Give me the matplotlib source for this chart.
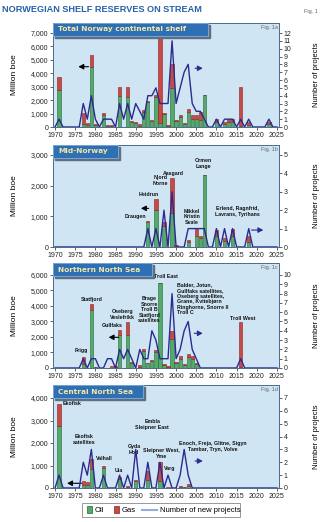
import numpy as np
import matplotlib.pyplot as plt
from matplotlib.patches import Rectangle

years = np.arange(1970, 2026)

# Total Norway continental shelf (million boe)
tot_years = [1971, 1977, 1978, 1979, 1980, 1982, 1983, 1984, 1986, 1988, 1989, 1990,
             1991, 1992, 1993, 1994, 1995, 1996, 1997, 1998, 1999, 2000, 2001, 2002,
             2003, 2004, 2005, 2006, 2007, 2010, 2012, 2013, 2014, 2016, 2018, 2023]
tot_oil = [2750, 250, 150, 4500, 150, 920, 50, 100, 2300, 2250, 380, 320,
           80, 1150, 1850, 420, 2250, 300, 950, 80, 2900, 480, 750, 220,
           1100, 600, 600, 500, 2400, 400, 200, 350, 350, 50, 150, 200]
tot_gas = [1000, 770, 120, 850, 50, 100, 80, 60, 650, 700, 30, 30,
           120, 100, 100, 80, 150, 6300, 100, 70, 1800, 30, 150, 90,
           250, 300, 300, 600, 0, 200, 150, 250, 250, 2900, 200, 200]
tot_proj = [0, 1, 0, 0, 0, 0, 0, 3, 1, 4,
            1, 0, 1, 1, 1, 0, 3, 1, 3, 1,
            3, 2, 1, 4, 4, 5, 3, 3, 3, 11,
            3, 5, 7, 8, 3, 2, 2, 1, 0, 0,
            1, 0, 1, 1, 1, 0, 1, 0, 1, 0,
            0, 0, 0, 1, 0, 0]

# Mid-Norway
mid_years = [1993, 1995, 1997, 1999, 2000, 2003, 2005, 2006, 2007, 2010, 2012, 2014, 2018]
mid_oil = [800, 1200, 700, 1100, 0, 150, 350, 300, 2350, 350, 200, 350, 150]
mid_gas = [50, 370, 100, 1150, 50, 80, 250, 50, 0, 200, 100, 250, 200]
mid_proj = [0, 0, 0, 0, 0, 0, 0, 0, 0, 0,
            0, 0, 0, 0, 0, 0, 0, 0, 0, 0,
            0, 0, 0, 1, 0, 1, 0, 2, 0, 3,
            0, 0, 0, 1, 1, 1, 1, 1, 0, 0,
            1, 0, 1, 0, 1, 0, 0, 0, 1, 0,
            0, 0, 0, 0, 0, 0]

# Northern North Sea
nns_years = [1977, 1979, 1980, 1984, 1985, 1986, 1988, 1989, 1991, 1992, 1993, 1994,
             1995, 1996, 1997, 1998, 1999, 2000, 2001, 2002, 2003, 2004, 2005, 2016]
nns_oil = [250, 3750, 80, 30, 60, 2100, 2150, 350, 50, 1100, 300, 450,
           1000, 5500, 200, 80, 1850, 350, 600, 200, 700, 600, 250, 50]
nns_gas = [450, 350, 0, 70, 80, 350, 800, 50, 150, 150, 50, 80,
           150, 0, 50, 40, 550, 50, 150, 50, 200, 200, 100, 2900]
nns_proj = [0, 0, 0, 0, 0, 0, 0, 1, 0, 1,
            1, 0, 0, 1, 1, 0, 2, 1, 2, 1,
            0, 2, 1, 1, 4, 3, 1, 1, 1, 8,
            1, 2, 4, 5, 2, 1, 0, 0, 0, 0,
            0, 0, 0, 0, 0, 0, 1, 0, 0, 0,
            0, 0, 0, 0, 0, 0]

# Central North Sea
cns_years = [1971, 1977, 1978, 1979, 1982, 1986, 1988, 1990, 1993, 1996, 1998, 2001, 2002, 2003]
cns_oil = [2750, 150, 150, 850, 900, 400, 40, 300, 350, 300, 20, 40, 30, 90]
cns_gas = [1000, 150, 100, 450, 100, 100, 60, 50, 400, 850, 40, 40, 30, 80]
cns_proj = [0, 1, 0, 0, 0, 0, 0, 2, 1, 3,
            0, 0, 1, 0, 0, 0, 1, 0, 1, 0,
            3, 0, 0, 2, 0, 0, 2, 0, 1, 0,
            0, 1, 3, 1, 0, 0, 0, 0, 0, 0,
            0, 0, 0, 0, 0, 0, 0, 0, 0, 0,
            0, 0, 0, 0, 0, 0]

plt.rcParams['font.family'] = ['Liberation Sans', 'DejaVu Sans']

W, H = 325, 522
fig = plt.figure(figsize=(W / 100, H / 100), dpi=100)


def fx(x):
    return x / W


def fy(y):
    return 1 - y / H


oil_c, oil_e = '#55a96a', '#1e6a36'
gas_c, gas_e = '#c64b46', '#8a2020'
line_c = '#2c2a8e'
bg = '#cfe5f4'
spine_c = '#4d6b8c'


def panel(top, bottom, lmax, lstep, ltop, rmax, rtop, b_years, oil, gas, proj,
          title, box_right, tag):
    ax = fig.add_axes([fx(53), fy(bottom), fx(279) - fx(53), (bottom - top) / H])
    ax.set_facecolor(bg)
    ax.bar(b_years, oil, width=0.8, color=oil_c, edgecolor=oil_e, linewidth=0.4, zorder=2)
    ax.bar(b_years, gas, width=0.8, bottom=oil, color=gas_c, edgecolor=gas_e,
           linewidth=0.4, zorder=2)
    ax.set_xlim(1969.5, 2025.5)
    ax.set_ylim(0, ltop)
    lt = np.arange(0, lmax + 1, lstep)
    ax.set_yticks(lt)
    ax.set_yticklabels([f'{v:,}' for v in lt])
    ax.set_xticks(np.arange(1970, 2026, 5))
    ax2 = ax.twinx()
    ax2.plot(years, proj, color=line_c, lw=1.0, zorder=3)
    ax2.set_ylim(0, rtop)
    ax2.set_yticks(np.arange(0, rmax + 1))
    for a in (ax, ax2):
        a.tick_params(labelsize=5, length=2, width=0.5, pad=1.5, colors='#222222')
        for s in a.spines.values():
            s.set_color(spine_c)
            s.set_linewidth(0.6)
    # title box
    fig.add_artist(Rectangle((fx(54.5), fy(top + 14.5)), fx(box_right - 53), 13 / H,
                             transform=fig.transFigure, color='#5f6f7f', zorder=4))
    fig.add_artist(Rectangle((fx(53), fy(top + 13)), fx(box_right - 53), 13 / H,
                             transform=fig.transFigure, facecolor='#2f6fb4',
                             edgecolor='#7fb0e0', linewidth=0.6, zorder=5))
    fig.text(fx(58), fy(top + 6.5), title, fontsize=5.3, fontweight='bold',
             color='#f4e8a4', va='center', ha='left', family='DejaVu Sans', zorder=6)
    ax.text(0.995, 0.985, tag, transform=ax.transAxes, fontsize=4, color='#666666',
            ha='right', va='top', zorder=6)
    mid = (top + bottom) / 2
    fig.text(fx(15), fy(mid), 'Million boe', rotation=90, fontsize=6, ha='center', va='center')
    fig.text(fx(317), fy(mid), 'Number of projects', rotation=90, fontsize=5.5,
             ha='center', va='center')
    return ax, ax2


def label(ax, x, y, s, ha='center', va='center'):
    ax.text(x, y, s, fontsize=3.8, fontweight='bold', ha=ha, va=va, linespacing=1.15,
            color='#111111', zorder=6)


def arrow(ax, x0, x1, y, color):
    ax.annotate('', xy=(x1, y), xytext=(x0, y),
                arrowprops=dict(arrowstyle='-|>,head_length=0.3,head_width=0.16',
                                color=color, lw=0.8, shrinkA=0, shrinkB=0), zorder=6)


# Panel 1: total
ax, ax2 = panel(23, 127, 7000, 1000, 7745, 12, 13.28, tot_years, tot_oil, tot_gas, tot_proj,
                'Total Norway continental shelf', 208, 'Fig. 1a')
arrow(ax, 1978.3, 1975.8, 4490, 'black')
arrow(ax2, 2004.7, 2006.6, 7.5, line_c)

# Panel 2: Mid-Norway
ax, ax2 = panel(145, 247, 3000, 1000, 3326, 5, 5.54, mid_years, mid_oil, mid_gas, mid_proj,
                'Mid-Norway', 118, 'Fig. 1b')
label(ax, 1992.6, 990, 'Draugen', ha='right')
label(ax, 1993.3, 1700, 'Heidrun')
label(ax, 1996.1, 2170, 'Njord\nNorne')
label(ax, 1999.3, 2410, 'Aasgard')
label(ax, 2003.9, 990, 'Mikkel\nKristin\nSvale')
label(ax, 2006.8, 2730, 'Ormen\nLange')
label(ax, 2015.2, 1150, 'Erlend, Ragnfrid,\nLavrans, Tyrihans')
arrow(ax, 1993.2, 1991.3, 1260, 'black')
arrow(ax2, 2018.7, 2021.6, 0.92, line_c)

# Panel 3: Northern North Sea
ax, ax2 = panel(263, 368, 6000, 1000, 6774, 10, 11.29, nns_years, nns_oil, nns_gas, nns_proj,
                'Northern North Sea', 152, 'Fig. 1c')
label(ax, 1976.6, 1120, 'Frigg')
label(ax, 1979.1, 4390, 'Statfjord')
label(ax, 1984.1, 2710, 'Gullfaks')
label(ax, 1986.8, 3470, 'Oseberg\nVeslefrikk')
label(ax, 1993.4, 3760, 'Brage\nSnorre\nTroll B\nStatfjord\nsatellites')
label(ax, 1997.5, 5890, 'Troll East')
label(ax, 2000.2, 5520, 'Balder, Jotun,\nGullfaks satellites,\nOseberg satellites,\n'
      'Grane, Kvitebjørn\nRinghorne, Snorre II\nTroll C', ha='left', va='top')
label(ax, 2016.4, 3050, 'Troll West', va='bottom')
arrow(ax, 1985.8, 1983.3, 1980, 'black')
arrow(ax2, 2004.5, 2006.6, 3.73, line_c)

# Panel 4: Central North Sea
ax, ax2 = panel(385, 488, 4000, 1000, 4578, 7, 8.01, cns_years, cns_oil, cns_gas, cns_proj,
                'Central North Sea', 143, 'Fig. 1d')
label(ax, 1971.9, 3760, 'Ekofisk', ha='left')
label(ax, 1977.2, 2160, 'Ekofisk\nsatellites')
label(ax, 1982.2, 1320, 'Valhall')
label(ax, 1985.9, 800, 'Ula')
label(ax, 1989.6, 1720, 'Gyda\nHod')
label(ax, 1994.1, 2820, 'Embla\nSleipner East')
label(ax, 1996.3, 1540, 'Sleipner West,\nYme')
label(ax, 1998.5, 880, 'Varg')
label(ax, 2009.0, 1840, 'Enoch, Freja, Glitne, Sigyn\nTambar, Tryn, Volve')
arrow(ax, 1976.6, 1973.0, 210, 'black')
arrow(ax2, 2004.7, 2006.6, 2.1, line_c)

# header
fig.text(fx(2), fy(9), 'NORWEGIAN SHELF RESERVES ON STREAM', fontsize=6.6, fontweight='bold',
         color='#2562aa', ha='left', va='center')
fig.text(fx(318), fy(12), 'Fig. 1', fontsize=4, color='#666666', ha='right', va='center')

# legend
fig.add_artist(Rectangle((fx(82), fy(517)), fx(158), 14 / H, transform=fig.transFigure,
                         facecolor='white', edgecolor='#888888', linewidth=0.6))
fig.add_artist(Rectangle((fx(87), fy(513)), fx(5), 7 / H, transform=fig.transFigure,
                         facecolor=oil_c, edgecolor=oil_e, linewidth=0.5))
fig.text(fx(95), fy(510), 'Oil', fontsize=5.5, va='center')
fig.add_artist(Rectangle((fx(114), fy(513)), fx(5), 7 / H, transform=fig.transFigure,
                         facecolor=gas_c, edgecolor=gas_e, linewidth=0.5))
fig.text(fx(122), fy(510), 'Gas', fontsize=5.5, va='center')
fig.add_artist(plt.Line2D([fx(142), fx(157)], [fy(509.5), fy(509.5)], transform=fig.transFigure,
                          color='#8eb0e0', lw=1.5))
fig.text(fx(160), fy(510), 'Number of new projects', fontsize=5.5, va='center')

fig.savefig('out.png', dpi=100)
